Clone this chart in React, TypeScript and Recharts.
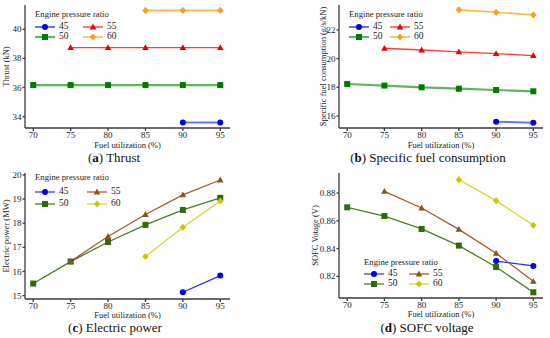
import React from 'react';
import { LineChart, Line, XAxis, YAxis } from 'recharts';

const fuelUtilization = [70, 75, 80, 85, 90, 95];
const pressureRatios = ['45', '50', '55', '60'];

const thrust45 = [null, null, null, null, 33.59, 33.59];
const thrust50 = [36.17, 36.17, 36.17, 36.17, 36.17, 36.17];
const thrust55 = [null, 38.74, 38.74, 38.74, 38.74, 38.74];
const thrust60 = [null, null, null, 41.3, 41.3, 41.3];

const sfc45 = [null, null, null, null, 15.6, 15.53];
const sfc50 = [18.23, 18.12, 18.0, 17.9, 17.81, 17.72];
const sfc55 = [null, 20.72, 20.6, 20.47, 20.35, 20.21];
const sfc60 = [null, null, null, 23.4, 23.23, 23.05];

const power45 = [null, null, null, null, 15.14, 15.83];
const power50 = [15.5, 16.41, 17.22, 17.93, 18.55, 19.05];
const power55 = [null, 16.42, 17.45, 18.36, 19.17, 19.79];
const power60 = [null, null, null, 16.62, 17.83, 18.92];

const voltage45 = [null, null, null, null, 0.831, 0.8275];
const voltage50 = [0.8697, 0.8634, 0.8541, 0.8421, 0.8267, 0.8085];
const voltage55 = [null, 0.8812, 0.8692, 0.8538, 0.8366, 0.8164];
const voltage60 = [null, null, null, 0.8896, 0.8745, 0.8567];

const xTicks = [70, 75, 80, 85, 90, 95];
const thrustTicks = [34, 36, 38, 40];
const sfcTicks = [16, 18, 20, 22];
const powerTicks = [15, 16, 17, 18, 19, 20];
const voltageTicks = [0.82, 0.84, 0.86, 0.88];

const FONT = 'Liberation Serif, Times New Roman, serif';
const FRAME = '#3a3a3a';
const TXT = '#222';

type Shape = 'circle' | 'square' | 'triangle' | 'diamond';
const shapes: Shape[] = ['circle', 'square', 'triangle', 'diamond'];

interface Style { line: string; marker: string; width: number; opacity: number }

const stylesAB: Style[] = [
  { line: '#3344ff', marker: '#0000ee', width: 2, opacity: 0.75 },
  { line: '#3aa03a', marker: '#007a00', width: 2.2, opacity: 0.8 },
  { line: '#ff2a2a', marker: '#ee0000', width: 1.4, opacity: 0.9 },
  { line: '#ffa733', marker: '#ff9d1a', width: 1.6, opacity: 0.85 },
];

const stylesCD: Style[] = [
  { line: '#2b2bff', marker: '#0000ee', width: 1.2, opacity: 1 },
  { line: '#467f22', marker: '#2f6a0c', width: 1.3, opacity: 1 },
  { line: '#a65a2c', marker: '#86561c', width: 1.3, opacity: 1 },
  { line: '#d6d63e', marker: '#c8c800', width: 1.3, opacity: 1 },
];

const buildRows = (series: (number | null)[][]) =>
  fuelUtilization.map((x, i) => {
    const row: Record<string, number | null> = { x };
    series.forEach((s, k) => { row['p' + pressureRatios[k]] = s[i]; });
    return row;
  });

const marker = (shape: Shape, color: string, cx: number, cy: number, key?: any) => {
  const r = 3;
  if (shape === 'circle') return <circle key={key} cx={cx} cy={cy} r={r} fill={color} />;
  if (shape === 'square') return <rect key={key} x={cx - r} y={cy - r} width={2 * r} height={2 * r} fill={color} />;
  if (shape === 'triangle')
    return <polygon key={key} points={`${cx},${cy - 3.4} ${cx - 3.3},${cy + 2.4} ${cx + 3.3},${cy + 2.4}`} fill={color} />;
  return <polygon key={key} points={`${cx},${cy - 3.6} ${cx + 3.2},${cy} ${cx},${cy + 3.6} ${cx - 3.2},${cy}`} fill={color} />;
};

const makeDot = (shape: Shape, color: string) => (props: any) => {
  const { cx, cy, index, value } = props;
  if (cx == null || cy == null || value == null) return <g key={index} />;
  return marker(shape, color, cx, cy, index);
};

// tick renderers so the serif font is applied to the tick text itself
const xTick = (props: any) => (
  <text x={props.x} y={props.y} dy="0.75em" textAnchor="middle" fontSize={9} fill={TXT} style={{ fontFamily: FONT }}>
    {props.payload.value}
  </text>
);

const makeYTick = (fmt?: (v: number) => string) => (props: any) => (
  <text x={props.x} y={props.y} dy="0.34em" textAnchor="end" fontSize={9} fill={TXT} style={{ fontFamily: FONT }}>
    {fmt ? fmt(props.payload.value) : props.payload.value}
  </text>
);

interface PanelProps {
  left: number;
  top: number;
  height: number;
  series: (number | null)[][];
  styles: Style[];
  yDomain: [number, number];
  yTicks: number[];
  yLabel: string;
  yFormat?: (v: number) => string;
  yAxisWidth: number;
  margin: { top: number; right: number; left: number; bottom: number };
  xAxisHeight: number;
  yLabelOffset: number;
  legend: { x: number; y: number; col2: number; first: number; rowGap: number };
  letter: string;
  caption: string;
  captionX: number;
  captionY: number;
}

const Panel = (p: PanelProps) => {
  const rows = buildRows(p.series);
  const lg = p.legend;
  return (
    <>
      <div style={{ position: 'absolute', left: p.left, top: p.top }}>
        <LineChart width={275} height={p.height} data={rows} margin={p.margin} style={{ fontFamily: FONT }}>
          <XAxis
            dataKey="x"
            type="number"
            domain={[68.9, 96.3]}
            ticks={xTicks}
            interval={0}
            allowDataOverflow
            height={p.xAxisHeight}
            tickSize={3}
            tickMargin={0}
            stroke={FRAME}
            strokeWidth={1.3}
            tick={xTick}
            label={{ value: 'Fuel utilization (%)', position: 'insideBottom', offset: 2, fill: TXT, fontSize: 8.5, style: { fontFamily: FONT } }}
          />
          <XAxis xAxisId="top" dataKey="x" type="number" domain={[68.9, 96.3]} orientation="top" height={0} tick={false} tickLine={false} stroke={FRAME} strokeWidth={1.3} />
          <YAxis
            type="number"
            domain={p.yDomain}
            ticks={p.yTicks}
            interval={0}
            allowDataOverflow
            width={p.yAxisWidth}
            tickSize={2.5}
            tickMargin={1}
            stroke={FRAME}
            strokeWidth={1.3}
            tick={makeYTick(p.yFormat)}
            label={{ value: p.yLabel, angle: -90, position: 'insideLeft', offset: p.yLabelOffset, fill: TXT, fontSize: 8.5, style: { textAnchor: 'middle', fontFamily: FONT } }}
          />
          <YAxis yAxisId="right" orientation="right" domain={p.yDomain} width={0} tick={false} tickLine={false} stroke={FRAME} strokeWidth={1.3} />
          {pressureRatios.map((pr, k) => (
            <Line
              key={pr}
              dataKey={'p' + pr}
              stroke={p.styles[k].line}
              strokeWidth={p.styles[k].width}
              strokeOpacity={p.styles[k].opacity}
              dot={makeDot(shapes[k], p.styles[k].marker)}
              activeDot={false}
              isAnimationActive={false}
            />
          ))}
        </LineChart>
      </div>
      <svg style={{ position: 'absolute', left: p.left, top: p.top, overflow: 'visible' }} width={275} height={150}>
        <text x={lg.x} y={lg.y} fontSize={8.7} style={{ fontFamily: FONT }} fill={TXT} dominantBaseline="middle">Engine pressure ratio</text>
        {pressureRatios.map((pr, k) => {
          const col = k < 2 ? 0 : 1;
          const row = k % 2;
          const lx = lg.x + col * lg.col2;
          const ly = lg.y + lg.first + row * lg.rowGap;
          const st = p.styles[k];
          return (
            <g key={pr}>
              <line x1={lx} x2={lx + 20} y1={ly} y2={ly} stroke={st.line} strokeWidth={st.width} strokeOpacity={st.opacity} />
              {marker(shapes[k], st.marker, lx + 10, ly)}
              <text x={lx + 24} y={ly} fontSize={9.5} style={{ fontFamily: FONT }} fill={TXT} dominantBaseline="middle">{pr}</text>
            </g>
          );
        })}
      </svg>
      <div
        style={{
          position: 'absolute', left: p.left + p.captionX - 150, top: p.top + p.captionY - 9, width: 300,
          textAlign: 'center', fontFamily: FONT, fontSize: 13, color: '#111', lineHeight: '18px', whiteSpace: 'nowrap',
        }}
      >
        (<b>{p.letter}</b>) {p.caption}
      </div>
    </>
  );
};

export default function App() {
  return (
    <div style={{ position: 'absolute', left: 0, top: 0, width: 550, height: 338, background: '#fff', overflow: 'hidden', fontFamily: FONT }}>
      <Panel
        left={0} top={0} height={150}
        series={[thrust45, thrust50, thrust55, thrust60]}
        styles={stylesAB}
        yDomain={[33.22, 41.67]}
        yTicks={thrustTicks}
        yLabel="Thrust (kN)"
        yAxisWidth={25}
        yLabelOffset={6}
        margin={{ top: 5, right: 45, left: 0, bottom: 0 }}
        xAxisHeight={22}
        legend={{ x: 35, y: 15, col2: 48, first: 12, rowGap: 10 }}
        letter="a" caption="Thrust" captionX={114} captionY={158}
      />
      <Panel
        left={275} top={0} height={150}
        series={[sfc45, sfc50, sfc55, sfc60]}
        styles={stylesAB}
        yDomain={[15.16, 23.74]}
        yTicks={sfcTicks}
        yLabel="Specific fuel consumption (g/s/kN)"
        yAxisWidth={64}
        yLabelOffset={48}
        margin={{ top: 5, right: 7, left: 0, bottom: 0 }}
        xAxisHeight={22}
        legend={{ x: 74, y: 15, col2: 41, first: 12, rowGap: 10 }}
        letter="b" caption="Specific fuel consumption" captionX={153} captionY={158}
      />
      <Panel
        left={0} top={169} height={151}
        series={[power45, power50, power55, power60]}
        styles={stylesCD}
        yDomain={[14.86, 20.08]}
        yTicks={powerTicks}
        yLabel="Electric power (MW)"
        yAxisWidth={25}
        yLabelOffset={6}
        margin={{ top: 4, right: 45, left: 0, bottom: 0 }}
        xAxisHeight={21}
        legend={{ x: 35, y: 9, col2: 52, first: 14, rowGap: 12 }}
        letter="c" caption="Electric power" captionX={115} captionY={159}
      />
      <Panel
        left={275} top={169} height={150}
        series={[voltage45, voltage50, voltage55, voltage60]}
        styles={stylesCD}
        yDomain={[0.8044, 0.8944]}
        yTicks={voltageTicks}
        yLabel="SOFC Votage (V)"
        yFormat={(v: number) => v.toFixed(2)}
        yAxisWidth={64}
        yLabelOffset={40}
        margin={{ top: 4, right: 7, left: 0, bottom: 0 }}
        xAxisHeight={21}
        legend={{ x: 89, y: 94, col2: 45, first: 11, rowGap: 10 }}
        letter="d" caption="SOFC voltage" captionX={152} captionY={159}
      />
    </div>
  );
}
